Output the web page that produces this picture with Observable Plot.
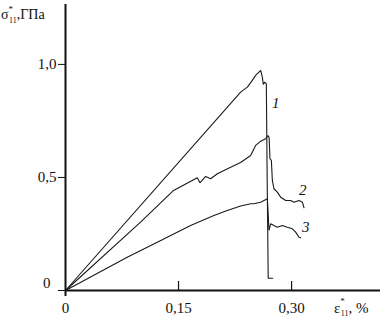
<!DOCTYPE html>
<html><head><meta charset="utf-8">
<script src="https://cdn.jsdelivr.net/npm/d3@7"></script>
<script src="https://cdn.jsdelivr.net/npm/@observablehq/plot@0.6"></script>
<style>body{margin:0;background:#fff} svg{display:block}</style>
</head><body><div id="chart"></div>
<script>
// Curve 1
const strain1 = [0, 0.2324, 0.2413, 0.2479, 0.2523, 0.2590, 0.2612, 0.2625, 0.2643, 0.2665, 0.2676, 0.2690, 0.2749];
const stress1 = [0, 0.8774, 0.8996, 0.9292, 0.9513, 0.9735, 0.9438, 0.9115, 0.9217, 0.9146, 0.5000, 0.0544, 0.0544];
// Curve 2
const strain2 = [0, 0.0996, 0.1434, 0.1749, 0.1784, 0.1859, 0.1926, 0.2015, 0.2191, 0.2324, 0.2457, 0.2523, 0.2590, 0.2656, 0.2687, 0.2702, 0.2713, 0.2732, 0.2745, 0.2766, 0.2811, 0.2855, 0.2922, 0.2988, 0.3032, 0.3098, 0.3143, 0.3165];
const stress2 = [0, 0.3022, 0.4425, 0.4987, 0.4765, 0.5044, 0.4942, 0.5164, 0.5456, 0.5664, 0.5973, 0.6416, 0.6606, 0.6712, 0.6858, 0.6770, 0.5827, 0.5752, 0.4867, 0.4500, 0.4350, 0.4128, 0.3982, 0.3982, 0.3907, 0.3982, 0.3907, 0.3659];
// Curve 3
const strain3 = [0, 0.0819, 0.1284, 0.1660, 0.1969, 0.2147, 0.2324, 0.2457, 0.2497, 0.2590, 0.2679, 0.2700, 0.2722, 0.2766, 0.2811, 0.2878, 0.2944, 0.3011, 0.3054, 0.3098, 0.3121];
const stress3 = [0, 0.1473, 0.2243, 0.2876, 0.3319, 0.3540, 0.3739, 0.3836, 0.3836, 0.3907, 0.4058, 0.2655, 0.2951, 0.2876, 0.2801, 0.2876, 0.2801, 0.2730, 0.2580, 0.2358, 0.2332];

const curveNames = ["1", "2", "3"];
const labelStrain = [0.2789, 0.3147, 0.3187];
const labelStress = [0.827, 0.4425, 0.279];

const xTicks = [0, 0.15, 0.30];
const xTickLabels = ["0", "0,15", "0,30"];
const yTicks = [0, 0.5, 1.0];
const yTickLabels = ["0", "0,5", "1,0"];

const series = [[strain1, stress1], [strain2, stress2], [strain3, stress3]];
const data = series.flatMap(([xs, ys], k) => xs.map((x, i) => ({curve: curveNames[k], x, y: ys[i]})));
const labels = curveNames.map((c, i) => ({c, x: labelStrain[i], y: labelStress[i]}));

const font = "'Liberation Serif', 'Times New Roman', serif";

const chart = Plot.plot({
  width: 384, height: 318,
  marginLeft: 65, marginRight: 4, marginTop: 4, marginBottom: 28,
  style: {fontFamily: font, fontSize: "15px", color: "#111", background: "#fff"},
  x: {domain: [0, 0.418], axis: null},
  y: {domain: [0, 1.265], axis: null},
  marks: [
    Plot.line(data, {x: "x", y: "y", z: "curve", stroke: "#1a1a1a", strokeWidth: 1.1, strokeLinejoin: "miter"}),
    Plot.ruleY([0], {stroke: "#111", strokeWidth: 2}),
    Plot.ruleX([0], {stroke: "#111", strokeWidth: 2, insetBottom: -6}),
    Plot.axisY({ticks: yTicks, tickSize: 7, tickPadding: 2, stroke: "#111",
      tickFormat: d => d === 0 ? "" : yTickLabels[yTicks.indexOf(d)], label: null, fontSize: 15}),
    Plot.text([yTicks[0]], {x: 0, y: d => d, text: () => yTickLabels[0], textAnchor: "end", dx: -15, dy: -7, fontSize: 15}),
    Plot.ruleX(xTicks.slice(1), {x: d => d, y1: yTicks[0], y2: yTicks[0], insetTop: -9, stroke: "#111", strokeWidth: 1.2}),
    Plot.axisX({ticks: xTicks, tickSize: 0, tickPadding: 12,
      tickFormat: d => xTickLabels[xTicks.indexOf(d)], label: null, fontSize: 15}),
    Plot.text(labels, {x: "x", y: "y", text: "c", fontStyle: "italic", fontSize: 15, fill: "#111"})
  ]
});

const svg = d3.select(chart);
// y-axis title
const t1 = svg.append("text").attr("x", 1).attr("y", 19).attr("text-anchor", "start")
  .attr("font-family", font).attr("font-size", 14).attr("fill", "#111");
t1.append("tspan").text("σ");
t1.append("tspan").attr("font-size", 9).attr("dy", -7).attr("dx", 0).text("*");
t1.append("tspan").attr("font-size", 8).attr("dy", 11).attr("dx", -4).text("11");
t1.append("tspan").attr("dy", -4).text(",ГПа");
// x-axis title
const t2 = svg.append("text").attr("x", 334).attr("y", 313).attr("text-anchor", "start")
  .attr("font-family", font).attr("font-size", 15).attr("fill", "#111");
t2.append("tspan").text("ε");
t2.append("tspan").attr("font-size", 9).attr("dy", -9).attr("dx", 0).text("*");
t2.append("tspan").attr("font-size", 8).attr("dy", 12).attr("dx", -4).text("11");
t2.append("tspan").attr("dy", -3).text(", %");

document.getElementById("chart").appendChild(chart);
</script>
</body></html>
